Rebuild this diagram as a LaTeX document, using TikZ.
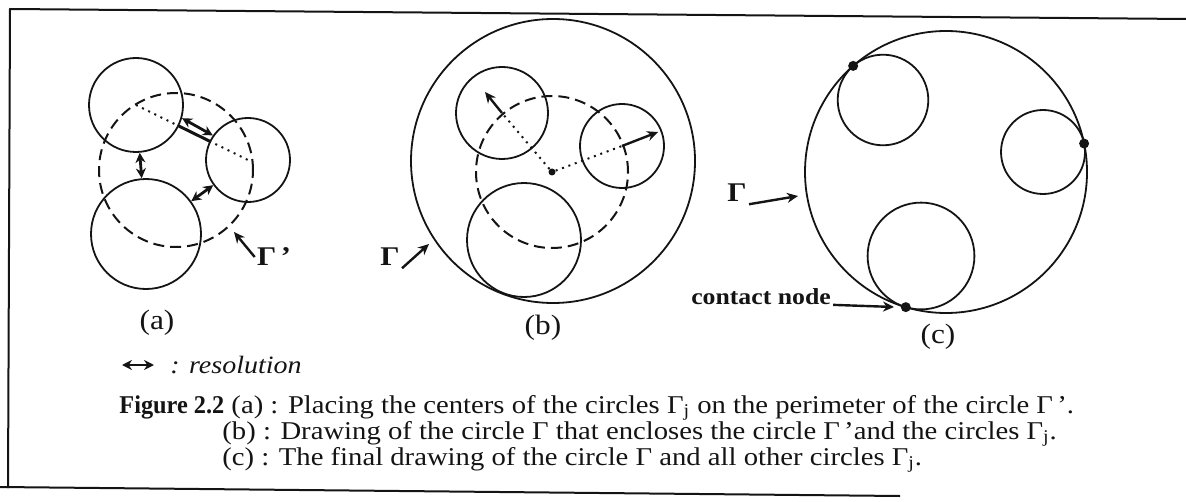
\documentclass[tikz,border=0pt]{standalone}
\usepackage{fontspec}
\setmainfont{Liberation Serif}[FakeStretch=1.12]
\newfontfamily\figbf{Liberation Serif}[FakeStretch=0.95]
\usetikzlibrary{arrows.meta,calc}
\definecolor{Ink}{HTML}{141414}
\tikzset{
  ring/.style={draw=Ink,circle,line width=0.9pt,inner sep=0pt},
  guide/.style={draw=Ink,circle,line width=1pt,inner sep=0pt,dash pattern=on 5.5pt off 3pt},
  dots/.style={draw=Ink,line width=1pt,dash pattern=on 1pt off 2.4pt},
  res/.style={{Stealth[length=5pt,width=5pt]}-{Stealth[length=5pt,width=5pt]},line width=1.4pt,draw=Ink},
  arr/.style={-{Stealth[length=5.5pt,width=5pt]},line width=1.2pt,draw=Ink},
  lbl/.style={font=\fontsize{14}{16}\selectfont,text=Ink,inner sep=1pt},
  gam/.style={font=\fontsize{13.5}{15}\selectfont\bfseries,text=Ink,inner sep=1pt},
  touch/.style={circle,fill=Ink,inner sep=0pt,minimum size=5pt},
  captxt/.style={font=\fontsize{12.8}{13}\selectfont,text=Ink,anchor=base west,inner sep=0pt},
}

\begin{document}
\begin{tikzpicture}[x=0.5pt,y=-0.5pt,line join=round]
\useasboundingbox (0,0) rectangle (1186,502);
% frame
\draw[Ink,line width=1pt] (0,487) -- (900,496);
\draw[Ink,line width=1pt] (8,488) -- (10,9) -- (1186,19);

% (a) centers on the dashed circle
\node[guide,minimum size=77pt] (a-o) at (176,170) {};
\node[ring,minimum size=47pt] (a-tl) at (136,105) {};
\node[ring,minimum size=42pt] (a-rt) at (248,160) {};
\node[ring,minimum size=55pt] (a-bt) at (146,234) {};
\draw[dots] (a-tl.center) -- (a-rt.center);
\draw[Ink,line width=1.5pt] (a-tl) -- (a-rt);
\draw[res] (a-tl) -- (a-bt);
\draw[res] (a-bt) -- (a-rt);
\draw[res] (a-tl.-16) -- (a-rt.145);
\node[gam] (a-gam) at (274,257) {Γ\,’};
\coordinate (a-tip) at (234,232);
\draw[arr] (a-gam.west) -- (a-tip);
\node[lbl] (a-name) at (157,323) {(a)};

% legend
\coordinate (key-l) at (122,365);
\coordinate (key-r) at (154,365);
\draw[res] (key-l) -- (key-r);
\node[lbl,anchor=west,font=\fontsize{12.5}{15}\selectfont\itshape] (key) at (168,365) {: resolution};

% (b) enclosing circle
\node[ring,minimum size=142pt] (b-big) at (553,161) {};
\node[guide,minimum size=76pt] (b-o) at (552,172) {};
\node[ring,minimum size=46pt] (b-tl) at (502,113) {};
\node[ring,minimum size=42pt] (b-rt) at (622,146) {};
\node[ring,minimum size=57pt] (b-bt) at (524,240) {};
\node[touch,minimum size=3.5pt] (b-c) at (b-o.center) {};
\draw[dots] (b-c) -- (b-tl.center);
\draw[dots] (b-c) -- (b-rt.center);
\coordinate (b-r1) at (485,92);
\coordinate (b-r2) at (658,132);
\draw[arr] (b-tl.center) -- (b-r1);
\draw[arr] (b-rt.center) -- (b-r2);
\node[gam] (b-gam) at (390,257) {Γ};
\coordinate (b-tip) at (429,244);
\draw[arr] (b-gam.south east) -- (b-tip);
\node[lbl] (b-name) at (543,328) {(b)};

% (c) final drawing
\node[ring,minimum size=141pt] (c-big) at (946,172) {};
\node[ring,minimum size=45.3pt] (c-tl) at (883,100) {};
\node[ring,minimum size=42pt] (c-rt) at (1043,152) {};
\node[ring,minimum size=53.4pt] (c-bt) at (921,256) {};
\node[touch] (c-k1) at ($(c-big.center)!70.5pt!(c-tl.center)$) {};
\node[touch] (c-k2) at ($(c-big.center)!70.5pt!(c-rt.center)$) {};
\node[touch] (c-k3) at ($(c-big.center)!70.5pt!(c-bt.center)$) {};
\node[gam] (c-gam) at (737,193) {Γ};
\coordinate (c-tip) at (798,196);
\draw[arr] (c-gam.south east) -- (c-tip);
\node[lbl,font=\fontsize{11.5}{14}\selectfont\bfseries] (c-note) at (761,297) {contact node};
\coordinate (c-tip2) at (894,307);
\draw[arr] (c-note.base east) -- (c-tip2);
\node[lbl] (c-name) at (938,337) {(c)};

% caption
\node[captxt] (fig1) at (119,413) {{\figbf\bfseries Figure 2.2} (a) : Placing the centers of the circles Γ\textsubscript{j} on the perimeter of the circle Γ\,’.};
\node[captxt] (fig2) at (222,439) {(b) : Drawing of the circle Γ that encloses the circle Γ\,’and the circles Γ\textsubscript{j}.};
\node[captxt] (fig3) at (222,465) {(c) : The final drawing of the circle Γ and all other circles Γ\textsubscript{j}.};
\end{tikzpicture}
\end{document}
